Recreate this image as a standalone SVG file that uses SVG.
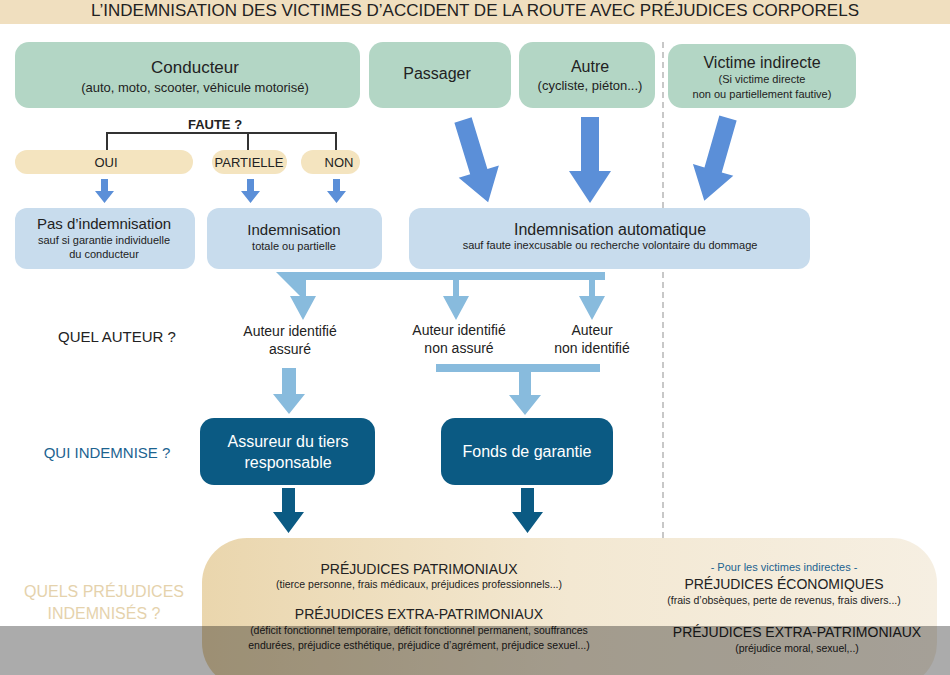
<svg xmlns="http://www.w3.org/2000/svg" width="950" height="675" viewBox="0 0 950 675">
<style>
text{font-family:"Liberation Sans",Arial,sans-serif;text-anchor:middle}
.g{fill:#b3d6c5}
.lb{fill:#c8dced}
.pill{fill:#f4e4bf}
.dk{fill:#0b5a83}
.t{fill:#222}
.s{fill:#222;font-size:11px}
.w{fill:#fff;font-size:16px}
</style>
<defs>
<linearGradient id="bg" x1="0" x2="1" y1="0" y2="0">
<stop offset="0" stop-color="#ead6ad"/><stop offset="0.5" stop-color="#f3e8d2"/><stop offset="1" stop-color="#f6efe2"/>
</linearGradient>
<path id="big" d="M-9 0h18v54h12l-21 32-21-32h12z"/>
</defs>
<rect width="950" height="675" fill="#fff"/>
<rect x="0" y="0" width="950" height="24" fill="#f0dfbf"/>
<text x="475" y="16" font-size="17" fill="#222">L’INDEMNISATION DES VICTIMES D’ACCIDENT DE LA ROUTE AVEC PRÉJUDICES CORPORELS</text>
<line x1="663" y1="42" x2="663" y2="675" stroke="#c8c8c8" stroke-width="2" stroke-dasharray="6,4"/>

<g id="conducteur"><rect class="g" x="15" y="42" width="345" height="66" rx="14"/>
<text x="195" y="73" font-size="17" class="t">Conducteur</text><text x="195" y="92" font-size="13" class="t">(auto, moto, scooter, véhicule motorisé)</text></g>
<g id="passager"><rect class="g" x="369" y="42" width="142" height="66" rx="14"/><text x="437" y="79" font-size="16" class="t">Passager</text></g>
<g id="autre"><rect class="g" x="519" y="42" width="136" height="66" rx="14"/><text x="590" y="72" font-size="16" class="t">Autre</text><text x="590" y="90" font-size="13" class="t">(cycliste, piéton...)</text></g>
<g id="indirecte"><rect class="g" x="668" y="44" width="188" height="64" rx="14"/><text x="762" y="68" font-size="16" class="t">Victime indirecte</text><text x="762" y="83" class="s">(Si victime directe</text><text x="762" y="98" class="s">non ou partiellement fautive)</text></g>

<g id="faute"><text x="215" y="129" font-size="13" font-weight="bold" class="t">FAUTE ?</text></g>
<g id="oui"><rect class="pill" x="15" y="150" width="178" height="24" rx="12"/><text x="106" y="167" font-size="13" class="t">OUI</text></g>
<g id="partielle"><rect class="pill" x="212" y="150" width="75" height="24" rx="12"/><text x="249" y="167" font-size="13" class="t">PARTIELLE</text></g>
<g id="non"><rect class="pill" x="301" y="150" width="59" height="24" rx="12"/><text x="339" y="167" font-size="13" class="t">NON</text></g>

<g id="pas"><rect class="lb" x="15" y="208" width="180" height="61" rx="12"/><text x="104" y="229" font-size="15" class="t">Pas d’indemnisation</text><text x="104" y="244" class="s">sauf si garantie individuelle</text><text x="104" y="258" class="s">du conducteur</text></g>
<g id="indem"><rect class="lb" x="207" y="208" width="175" height="61" rx="12"/><text x="294" y="235" font-size="15" class="t">Indemnisation</text><text x="294" y="250" class="s">totale ou partielle</text></g>
<g id="auto"><rect class="lb" x="409" y="208" width="401" height="61" rx="12"/><text x="610" y="235" font-size="16" class="t">Indemnisation automatique</text><text x="610" y="249" class="s">sauf faute inexcusable ou recherche volontaire du dommage</text></g>

<g id="quelauteur"><text x="117" y="342" font-size="15" class="t">QUEL AUTEUR ?</text></g>
<g id="a1"><text x="290" y="336" font-size="14" class="t">Auteur identifié</text><text x="290" y="354" font-size="14" class="t">assuré</text></g>
<g id="a2"><text x="459" y="335" font-size="14" class="t">Auteur identifié</text><text x="459" y="353" font-size="14" class="t">non assuré</text></g>
<g id="a3"><text x="592" y="335" font-size="14" class="t">Auteur</text><text x="592" y="353" font-size="14" class="t">non identifié</text></g>

<g id="quiind"><text x="107" y="458" font-size="15" fill="#1c6390">QUI INDEMNISE ?</text></g>
<g id="assureur"><rect class="dk" x="200" y="418" width="175" height="67" rx="14"/><text x="288" y="447" class="w">Assureur du tiers</text><text x="288" y="468" class="w">responsable</text></g>
<g id="fonds"><rect class="dk" x="441" y="418" width="172" height="67" rx="14"/><text x="527" y="457" class="w">Fonds de garantie</text></g>

<g id="prejudices">
<rect x="202" y="538" width="735" height="150" rx="45" fill="url(#bg)"/>
<text x="419" y="574" font-size="14" class="t">PRÉJUDICES PATRIMONIAUX</text>
<text x="419" y="588" font-size="10.5" class="t">(tierce personne, frais médicaux, préjudices professionnels...)</text>
<text x="419" y="619" font-size="14" class="t">PRÉJUDICES EXTRA-PATRIMONIAUX</text>
<text x="419" y="634" font-size="10.5" class="t">(déficit fonctionnel temporaire, déficit fonctionnel permanent, souffrances</text>
<text x="419" y="649" font-size="10.5" class="t">endurées, préjudice esthétique, préjudice d’agrément, préjudice sexuel...)</text>
<text x="784" y="571" font-size="11" fill="#1c6390">- Pour les victimes indirectes -</text>
<text x="784" y="589" font-size="14" class="t">PRÉJUDICES ÉCONOMIQUES</text>
<text x="784" y="604" font-size="10.5" class="t">(frais d’obsèques, perte de revenus, frais divers...)</text>
<text x="797" y="637" font-size="14" class="t">PRÉJUDICES EXTRA-PATRIMONIAUX</text>
<text x="797" y="652" font-size="10.5" class="t">(préjudice moral, sexuel,..)</text>
</g>
<g id="quelspre"><text x="104" y="597" font-size="16" fill="#e5d2ac">QUELS PRÉJUDICES</text><text x="104" y="619" font-size="16" fill="#e5d2ac">INDEMNISÉS ?</text></g>

<g id="connectors">
<path d="M107 150V133H336V150M248 133V150" fill="none" stroke="#333" stroke-width="2"/>
<g fill="#5b8fd8">
<path d="M101 179h7v12h6l-9.5 12-9.5-12h6z"/>
<path d="M247 179h7v12h6l-9.5 12-9.5-12h6z"/>
<path d="M333 179h7v12h6l-9.5 12-9.5-12h6z"/>
<use href="#big" transform="translate(463,120) rotate(-17)"/>
<use href="#big" transform="translate(590,117)"/>
<use href="#big" transform="translate(728,118) rotate(16)"/>
</g>
<g fill="#88bbdd">
<path d="M276 272h329v8h-10v16h10l-13 24-13-24h10v-16h-130v16h10l-13 24-13-24h10v-16h-147v16h10l-13 24-13-24h10z"/>
<path d="M282 368h14v26h9l-16 20-16-20h9z"/>
<path d="M436 364h164v8h-69v23h10l-16 20-16-20h10v-23h-83z"/>
</g>
<g fill="#0b5a83">
<path d="M282 488h13v24h9l-15.5 21-15.5-21h9z"/>
<path d="M521 488h13v24h9l-15.5 21-15.5-21h9z"/>
</g>
</g>
<rect x="0" y="626" width="950" height="49" fill="#000" opacity="0.33"/>
</svg>
